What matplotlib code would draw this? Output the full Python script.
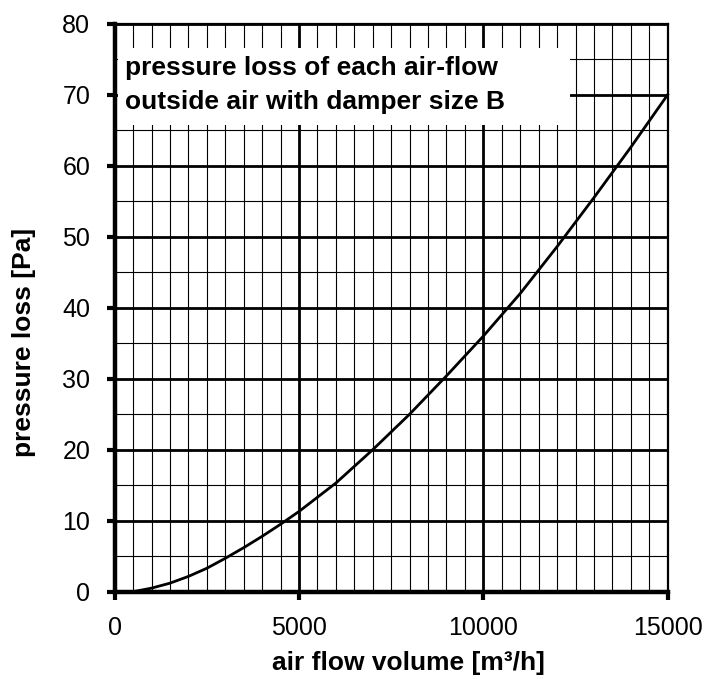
import matplotlib.pyplot as plt
from matplotlib.patches import Rectangle
from matplotlib.ticker import MultipleLocator

# Curve: air flow [m3/h] vs pressure loss [Pa]
flow = [500, 1000, 1500, 2000, 2500, 3000, 3500, 4000, 4500, 5000,
        6000, 7000, 8000, 9000, 10000, 11000, 12000, 13000, 14000, 15000]
loss = [0, 0.5, 1.2, 2.15, 3.3, 4.7, 6.2, 7.8, 9.5, 11.3,
        15.3, 20, 25, 30.4, 36, 42, 48.6, 55.5, 62.6, 70]

title_lines = ["pressure loss of each air-flow", "outside air with damper size B"]
x_ticks = [0, 5000, 10000, 15000]
y_ticks = [0, 10, 20, 30, 40, 50, 60, 70, 80]

plt.rcParams['font.family'] = ['Liberation Sans', 'DejaVu Sans']

fig = plt.figure(figsize=(7.07, 6.83), dpi=100)
ax = fig.add_axes([0.1622, 0.1337, 0.7822, 0.8316])

ax.set_xlim(0, 15000)
ax.set_ylim(0, 80)
ax.set_xticks(x_ticks)
ax.set_yticks(y_ticks)
ax.xaxis.set_minor_locator(MultipleLocator(500))
ax.yaxis.set_minor_locator(MultipleLocator(5))

# grid: thick majors, thin minors
ax.set_axisbelow(True)
ax.grid(which='major', color='black', linewidth=2.0)
ax.grid(which='minor', color='black', linewidth=0.8)

# spines
for side in ['left', 'bottom']:
    ax.spines[side].set_linewidth(3.2)
for side in ['top', 'right']:
    ax.spines[side].set_linewidth(1.6)

ax.tick_params(which='major', direction='out', length=5.5, width=3,
               pad=12, labelsize=18)
ax.tick_params(which='minor', length=0)

ax.set_xlabel("air flow volume [m³/h]", fontsize=19, fontweight='bold', va='center')
ax.set_ylabel("pressure loss [Pa]", fontsize=19, fontweight='bold', va='center')
ax.xaxis.set_label_coords(0.532, -0.125)
ax.yaxis.set_label_coords(-0.164, 0.4396)

# white box behind the caption
ax.add_patch(Rectangle((90, 65.7), 12260, 10.9, facecolor='white',
                       edgecolor='none', zorder=1.5))
ax.text(280, 72.8, title_lines[0], fontsize=19, fontweight='bold',
        va='baseline', zorder=2)
ax.text(280, 68.0, title_lines[1], fontsize=19, fontweight='bold',
        va='baseline', zorder=2)

ax.plot(flow, loss, color='black', linewidth=2.0, zorder=3, clip_on=False)

fig.savefig("out.png", dpi=100)
